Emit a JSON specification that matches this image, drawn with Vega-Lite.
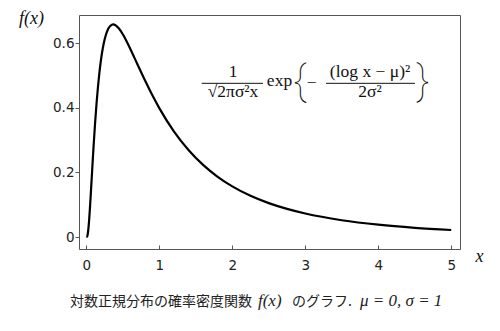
{
  "$schema": "https://vega.github.io/schema/vega-lite/v6.json",
  "width": 381,
  "height": 234,
  "autosize": {"type": "none"},
  "padding": {"left": 79, "top": 15, "right": 40, "bottom": 82},
  "background": "white",
  "config": {
    "view": {"stroke": "#555555", "strokeWidth": 1},
    "axis": {
      "domain": false,
      "grid": false,
      "labelFont": "DejaVu Sans",
      "labelFontSize": 13.5,
      "labelColor": "#222222",
      "tickColor": "#555555",
      "titleFont": "Liberation Serif",
      "titleFontStyle": "italic",
      "titleFontWeight": "normal",
      "titleFontSize": 18,
      "titleColor": "#111111"
    },
    "text": {"font": "Liberation Serif", "fontSize": 17.5, "color": "#111111"}
  },
  "layer": [
    {
      "data": {
        "values": [
          {"x": 0.0, "f": 0.0},
          {"x": 0.01, "f": 0.00099},
          {"x": 0.02, "f": 0.00948},
          {"x": 0.03, "f": 0.02843},
          {"x": 0.04, "f": 0.0561},
          {"x": 0.05, "f": 0.08978},
          {"x": 0.06, "f": 0.12705},
          {"x": 0.07, "f": 0.16604},
          {"x": 0.08, "f": 0.20539},
          {"x": 0.09, "f": 0.24412},
          {"x": 0.1, "f": 0.28158},
          {"x": 0.12, "f": 0.35119},
          {"x": 0.14, "f": 0.41246},
          {"x": 0.16, "f": 0.46509},
          {"x": 0.18, "f": 0.50946},
          {"x": 0.2, "f": 0.54627},
          {"x": 0.22, "f": 0.57633},
          {"x": 0.25, "f": 0.61045},
          {"x": 0.3, "f": 0.64421},
          {"x": 0.35, "f": 0.65693},
          {"x": 0.3679, "f": 0.65774},
          {"x": 0.4, "f": 0.65544},
          {"x": 0.45, "f": 0.64453},
          {"x": 0.5, "f": 0.6275},
          {"x": 0.55, "f": 0.60665},
          {"x": 0.6, "f": 0.58357},
          {"x": 0.7, "f": 0.53479},
          {"x": 0.8, "f": 0.48641},
          {"x": 0.9, "f": 0.44081},
          {"x": 1.0, "f": 0.39894},
          {"x": 1.2, "f": 0.32697},
          {"x": 1.4, "f": 0.26928},
          {"x": 1.6, "f": 0.22327},
          {"x": 1.8, "f": 0.18647},
          {"x": 2.0, "f": 0.15687},
          {"x": 2.25, "f": 0.12762},
          {"x": 2.5, "f": 0.10487},
          {"x": 2.75, "f": 0.08697},
          {"x": 3.0, "f": 0.07273},
          {"x": 3.5, "f": 0.05201},
          {"x": 4.0, "f": 0.03815},
          {"x": 4.5, "f": 0.02861},
          {"x": 5.0, "f": 0.02185}
        ]
      },
      "mark": {"type": "line", "color": "#000000", "strokeWidth": 2.2, "interpolate": "monotone", "clip": true},
      "encoding": {
        "x": {
          "field": "x",
          "type": "quantitative",
          "scale": {"domain": [-0.1, 5.12], "nice": false, "zero": false},
          "axis": {
            "values": [0, 1, 2, 3, 4, 5],
            "format": "d",
            "tickSize": -4,
            "labelPadding": 13,
            "title": "x",
            "titleAngle": 0,
            "titleX": 400,
            "titleY": 7,
            "titleAlign": "center",
            "titleBaseline": "middle"
          }
        },
        "y": {
          "field": "f",
          "type": "quantitative",
          "scale": {"domain": [-0.037, 0.687], "nice": false, "zero": false},
          "axis": {
            "values": [0, 0.2, 0.4, 0.6],
            "labelExpr": "datum.value == 0 ? '0' : format(datum.value, '.1f')",
            "tickSize": 4,
            "labelPadding": 1,
            "title": "f(x)",
            "titleAngle": 0,
            "titleX": -48,
            "titleY": 3,
            "titleAlign": "center",
            "titleBaseline": "middle"
          }
        }
      }
    },
    {
      "data": {"values": [{}]},
      "mark": {"type": "text", "text": "1", "align": "center", "baseline": "alphabetic"},
      "encoding": {"x": {"datum": 2.01}, "y": {"datum": 0.4955}}
    },
    {
      "data": {"values": [{}]},
      "mark": {"type": "rule", "color": "#111111", "strokeWidth": 1},
      "encoding": {"x": {"datum": 1.581}, "x2": {"datum": 2.421}, "y": {"datum": 0.4756}}
    },
    {
      "data": {"values": [{}]},
      "mark": {"type": "text", "text": "√2πσ²x", "align": "center", "baseline": "alphabetic"},
      "encoding": {"x": {"datum": 2.01}, "y": {"datum": 0.4335}}
    },
    {
      "data": {"values": [{}]},
      "mark": {"type": "text", "text": "exp", "align": "center", "baseline": "alphabetic"},
      "encoding": {"x": {"datum": 2.647}, "y": {"datum": 0.4672}}
    },
    {
      "data": {"values": [{}]},
      "mark": {"type": "text", "text": "{", "align": "center", "baseline": "middle", "font": "Roboto", "fontWeight": 100, "fontSize": 40},
      "encoding": {"x": {"datum": 2.928}, "y": {"datum": 0.4811}}
    },
    {
      "data": {"values": [{}]},
      "mark": {"type": "text", "text": "−", "align": "center", "baseline": "alphabetic"},
      "encoding": {"x": {"datum": 3.088}, "y": {"datum": 0.4604}}
    },
    {
      "data": {"values": [{}]},
      "mark": {"type": "text", "text": "(log x − μ)²", "align": "center", "baseline": "alphabetic"},
      "encoding": {"x": {"datum": 3.887}, "y": {"datum": 0.4955}}
    },
    {
      "data": {"values": [{}]},
      "mark": {"type": "rule", "color": "#111111", "strokeWidth": 1},
      "encoding": {"x": {"datum": 3.284}, "x2": {"datum": 4.503}, "y": {"datum": 0.4756}}
    },
    {
      "data": {"values": [{}]},
      "mark": {"type": "text", "text": "2σ²", "align": "center", "baseline": "alphabetic"},
      "encoding": {"x": {"datum": 3.887}, "y": {"datum": 0.4335}}
    },
    {
      "data": {"values": [{}]},
      "mark": {"type": "text", "text": "}", "align": "center", "baseline": "middle", "font": "Roboto", "fontWeight": 100, "fontSize": 40},
      "encoding": {"x": {"datum": 4.613}, "y": {"datum": 0.4811}}
    },
    {
      "data": {"values": [{}]},
      "mark": {"type": "text", "text": "対数正規分布の確率密度関数", "align": "left", "baseline": "alphabetic", "font": "Noto Sans CJK JP", "fontSize": 14, "color": "#222222"},
      "encoding": {"x": {"datum": -0.2233}, "y": {"datum": -0.2135}}
    },
    {
      "data": {"values": [{}]},
      "mark": {"type": "text", "text": "f(x)", "align": "left", "baseline": "alphabetic", "fontStyle": "italic", "fontSize": 17, "color": "#222222"},
      "encoding": {"x": {"datum": 2.352}, "y": {"datum": -0.2135}}
    },
    {
      "data": {"values": [{}]},
      "mark": {"type": "text", "text": "のグラフ.", "align": "left", "baseline": "alphabetic", "font": "Noto Sans CJK JP", "fontSize": 14, "color": "#222222"},
      "encoding": {"x": {"datum": 2.818}, "y": {"datum": -0.2135}}
    },
    {
      "data": {"values": [{}]},
      "mark": {"type": "text", "text": "μ = 0, σ = 1", "align": "left", "baseline": "alphabetic", "fontStyle": "italic", "fontSize": 17, "color": "#222222"},
      "encoding": {"x": {"datum": 3.75}, "y": {"datum": -0.2135}}
    }
  ]
}
